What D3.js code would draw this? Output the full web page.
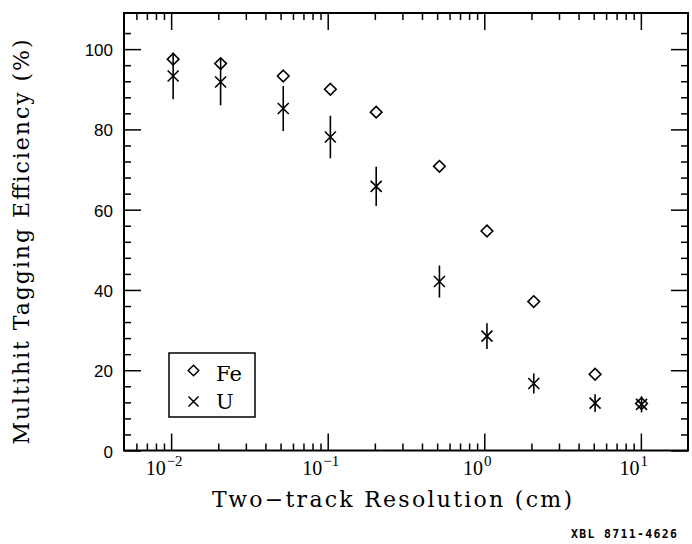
<!DOCTYPE html>
<html>
<head>
<meta charset="utf-8">
<script src="https://cdn.jsdelivr.net/npm/d3@7.9.0/dist/d3.min.js"></script>
<style>
  body { margin: 0; background: #fff; }
  svg { display: block; }
  .frame { fill: none; stroke: #000; stroke-width: 2; }
  .tick line { stroke: #000; stroke-width: 1.5; }
  .ytick { font-family: "Liberation Sans", Arial, sans-serif; font-size: 17px; }
  .title { font-family: "DejaVu Serif", serif; font-size: 22px; }
</style>
</head>
<body>
<svg width="692" height="544"></svg>
<script>
// two-track resolution (cm), same for both targets
const resolution = [0.0103, 0.0207, 0.052, 0.104, 0.204, 0.517, 1.04, 2.07, 5.1, 10.1];
const effFe = [97.5, 96.4, 93.3, 90.0, 84.3, 70.8, 54.7, 37.1, 19.0, 11.7];
const effU = [93.3, 91.8, 85.2, 78.1, 65.8, 42.1, 28.5, 16.7, 11.8, 11.5];
const errU = [5.8, 5.8, 5.6, 5.3, 4.9, 4.0, 3.2, 2.5, 2.2, 2.0];

const xMajor = [0.01, 0.1, 1, 10];
const xLabels = ["-2", "-1", "0", "1"];
const yMajor = [0, 20, 40, 60, 80, 100];

const svg = d3.select("svg");
const plot = {left: 124, right: 688, top: 13, bottom: 450.5};

const x = d3.scaleLog().domain([0.005, 20]).range([plot.left, plot.right]);
const y = d3.scaleLinear().domain([0, 109]).range([plot.bottom, plot.top]);

// minor ticks: 2..9 per decade, every 4 on y
const xMinor = [];
for (let e = -3; e <= 1; e++) {
  for (let m = 2; m <= 9; m++) {
    const v = m * Math.pow(10, e);
    if (v > 0.005 && v < 20) xMinor.push(v);
  }
}
const yMinor = d3.range(4, 108, 4).filter(v => v % 20 !== 0);

const H = plot.bottom - plot.top, W = plot.right - plot.left;
const major = 17, minor = 7;

function ticks(axisFn, scale, vals, len, tx) {
  svg.append("g")
    .attr("transform", tx)
    .call(axisFn(scale).tickValues(vals).tickSize(-len).tickFormat(""))
    .call(g => g.select(".domain").remove());
}
// bottom & top
ticks(d3.axisBottom, x, xMajor, major, `translate(0,${plot.bottom})`);
ticks(d3.axisBottom, x, xMinor, minor, `translate(0,${plot.bottom})`);
ticks(d3.axisTop, x, xMajor, major, `translate(0,${plot.top})`);
ticks(d3.axisTop, x, xMinor, minor, `translate(0,${plot.top})`);
// left & right
ticks(d3.axisLeft, y, yMajor, major, `translate(${plot.left},0)`);
ticks(d3.axisLeft, y, yMinor, minor, `translate(${plot.left},0)`);
ticks(d3.axisRight, y, yMajor, major, `translate(${plot.right},0)`);
ticks(d3.axisRight, y, yMinor, minor, `translate(${plot.right},0)`);

svg.append("rect").attr("class", "frame")
  .attr("x", plot.left).attr("y", plot.top).attr("width", W).attr("height", H);

// y tick labels
svg.selectAll(".ytick").data(yMajor).join("text")
  .attr("class", "ytick")
  .attr("text-anchor", "end")
  .attr("x", plot.left - 11)
  .attr("y", d => y(d) + 7)
  .text(d => d);

// x tick labels 10^n
const xl = svg.append("g").selectAll("text").data(xMajor).join("text")
  .attr("font-family", "'Liberation Serif', serif")
  .attr("font-size", 20)
  .attr("text-anchor", "middle")
  .attr("x", d => x(d) - 7)
  .attr("y", 475);
xl.append("tspan").text("10");
xl.append("tspan").attr("dy", -9).attr("dx", 1).attr("font-size", 15)
  .text((d, i) => xLabels[i].replace("-", "\u2212"));

// axis titles
svg.append("text").attr("class", "title")
  .attr("text-anchor", "middle")
  .attr("x", 392).attr("y", 507)
  .attr("textLength", 360).attr("lengthAdjust", "spacing")
  .text("Two\u2212track Resolution (cm)");

svg.append("text").attr("class", "title")
  .attr("text-anchor", "middle")
  .attr("transform", "translate(29,242) rotate(-90)")
  .attr("textLength", 405).attr("lengthAdjust", "spacing")
  .text("Multihit Tagging Efficiency (%)");

// markers
const diamond = (cx, cy, r) => `M${cx},${cy - r}L${cx + r},${cy}L${cx},${cy + r}L${cx - r},${cy}Z`;
const cross = (cx, cy, r) => `M${cx - r},${cy - r}L${cx + r},${cy + r}M${cx - r},${cy + r}L${cx + r},${cy - r}`;

const uData = resolution.map((r, i) => ({r, v: effU[i], e: errU[i]}));
const feData = resolution.map((r, i) => ({r, v: effFe[i]}));

svg.append("g").selectAll("line").data(uData).join("line")
  .attr("x1", d => x(d.r)).attr("x2", d => x(d.r))
  .attr("y1", d => y(d.v + d.e)).attr("y2", d => y(d.v - d.e))
  .attr("stroke", "#000").attr("stroke-width", 1.6);

svg.append("g").selectAll("path").data(uData).join("path")
  .attr("d", d => cross(x(d.r), y(d.v), 5.5))
  .attr("fill", "none").attr("stroke", "#000").attr("stroke-width", 1.6);

svg.append("g").selectAll("path").data(feData).join("path")
  .attr("d", d => diamond(x(d.r), y(d.v), 5.8))
  .attr("fill", "none").attr("stroke", "#000").attr("stroke-width", 1.6);

// legend
const lg = svg.append("g");
lg.append("rect").attr("x", 169).attr("y", 353).attr("width", 86).attr("height", 64)
  .attr("fill", "none").attr("stroke", "#000").attr("stroke-width", 1.5);
lg.append("path").attr("d", diamond(193.5, 370.5, 5.3))
  .attr("fill", "none").attr("stroke", "#000").attr("stroke-width", 1.5);
lg.append("path").attr("d", cross(193.5, 401.5, 5))
  .attr("fill", "none").attr("stroke", "#000").attr("stroke-width", 1.5);
lg.append("text").attr("class", "title").style("font-size", "21px")
  .attr("x", 216).attr("y", 380.5).text("Fe");
lg.append("text").attr("class", "title").style("font-size", "21px")
  .attr("x", 216).attr("y", 409).text("U");

svg.append("text")
  .attr("x", 571).attr("y", 538)
  .attr("textLength", 106).attr("lengthAdjust", "spacing")
  .style("font-family", "'DejaVu Sans Mono', monospace")
  .style("font-weight", "bold").style("font-size", "11.5px")
  .text("XBL 8711-4626");
</script>
</body>
</html>
